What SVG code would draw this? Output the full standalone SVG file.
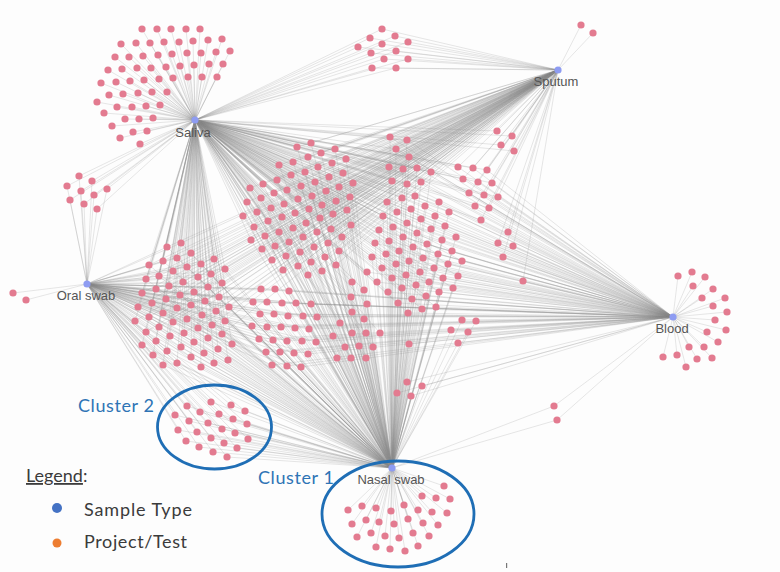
<svg xmlns="http://www.w3.org/2000/svg" width="780" height="572" viewBox="0 0 780 572">
<style>
.e path{fill:none;stroke:#8a8a8a;stroke-opacity:.3;stroke-width:.7}
.p circle{fill:#e37b90;r:3.6px}
.h circle{fill:#8e9cf2}
.hl{font-family:"Liberation Sans",Arial,sans-serif;font-size:13px;fill:#555;text-anchor:middle}
.cl{font-family:Lato,"Open Sans",sans-serif;font-size:18px;fill:#2e74b5}
.lg{font-family:Lato,"Open Sans",sans-serif;font-size:18px;fill:#3b3b3b}
.ov{fill:none;stroke:#1f6eb5;stroke-width:2.8}
</style>
<rect width="780" height="572" fill="#fdfdfd"/>
<g id="connectors" class="e">
<path d="M195 120 142 29M195 120 157 29M195 120 171 29M195 120 186 29M195 120 200 29M195 120 121 44M195 120 136 43M195 120 150 43M195 120 164 42M195 120 179 42M195 120 193 41M195 120 208 40M195 120 222 39M195 120 115 57M195 120 129 57M195 120 143 56M195 120 158 55M195 120 172 54M195 120 187 53M195 120 201 53M195 120 216 52M195 120 230 51M195 120 108 70M195 120 122 69M195 120 137 68M195 120 151 68M195 120 166 67M195 120 180 66M195 120 194 65M195 120 209 64M195 120 223 64M195 120 101 83M195 120 116 82M195 120 130 81M195 120 144 80M195 120 159 79M195 120 173 78M195 120 188 77M195 120 202 77M195 120 217 77M195 120 97 102M195 120 109 95M195 120 123 94M195 120 138 93M195 120 152 92M195 120 167 92M195 120 104 113M195 120 117 107M195 120 132 107M195 120 146 106M195 120 160 105M195 120 112 126M195 120 125 119M195 120 139 119M195 120 153 118M195 120 120 138M195 120 133 132M195 120 147 131M195 120 140 144"/>
<path d="M195 120 79 176M195 120 67 186M195 120 92 181M195 120 81 191M195 120 94 195M195 120 107 189M195 120 70 200M195 120 84 204M195 120 97 209"/>
<path d="M87 284 79 176M87 284 67 186M87 284 92 181M87 284 81 191M87 284 94 195M87 284 107 189M87 284 70 200M87 284 84 204M87 284 97 209M87 284 13 293M87 284 26 300"/>
<path d="M195 120 382 29M195 120 370 38M195 120 395 36M195 120 358 47M195 120 382 44M195 120 408 42M195 120 371 53M195 120 396 51M195 120 384 59M195 120 408 59M195 120 372 68M195 120 396 68"/>
<path d="M558 70 382 29M558 70 370 38M558 70 395 36M558 70 358 47M558 70 382 44M558 70 408 42M558 70 371 53M558 70 396 51M558 70 384 59M558 70 408 59M558 70 372 68M558 70 396 68M558 70 581 25M558 70 593 33"/>
<path d="M673 317 678 276M673 317 692 272M673 317 705 277M673 317 693 286M673 317 713 289M673 317 702 298M673 317 725 298M673 317 713 306M673 317 727 312M673 317 715 320M673 317 726 330M673 317 707 332M673 317 718 342M673 317 704 347M673 317 689 347M673 317 677 355M673 317 663 357M673 317 697 359M673 317 712 358M673 317 686 367"/>
<path d="M392 468 444 486M392 468 422 496M392 468 436 498M392 468 450 499M392 468 348 510M392 468 362 506M392 468 376 508M392 468 391 511M392 468 404 505M392 468 418 510M392 468 432 512M392 468 447 513M392 468 352 524M392 468 366 520M392 468 379 522M392 468 394 524M392 468 408 519M392 468 423 523M392 468 438 525M392 468 357 537M392 468 371 533M392 468 385 536M392 468 399 538M392 468 413 533M392 468 429 536M392 468 376 547M392 468 390 549M392 468 405 551M392 468 418 546"/>
<path d="M392 468 187 406M392 468 211 402M392 468 231 405M392 468 245 411M392 468 175 415M392 468 200 412M392 468 219 414M392 468 233 419M392 468 247 424M392 468 189 421M392 468 208 423M392 468 222 429M392 468 235 433M392 468 248 439M392 468 178 430M392 468 197 432M392 468 211 438M392 468 224 443M392 468 237 448M392 468 186 441M392 468 199 447M392 468 213 452M392 468 227 457"/>
<path d="M87 284 187 406M87 284 211 402M87 284 231 405M87 284 245 411M87 284 175 415M87 284 200 412M87 284 219 414M87 284 233 419M87 284 247 424M87 284 189 421M87 284 208 423M87 284 222 429M87 284 235 433M87 284 248 439M87 284 178 430M87 284 197 432M87 284 211 438M87 284 224 443M87 284 237 448M87 284 186 441M87 284 199 447M87 284 213 452M87 284 227 457"/>
<path d="M392 468 407 382M392 468 422 386M392 468 397 393M392 468 411 396M392 468 554 406M392 468 557 420M392 468 409 344M673 317 407 382M673 317 422 386M673 317 397 393M673 317 411 396M673 317 554 406M673 317 557 420M673 317 409 344"/>
<path d="M195 120 311 143M195 120 297 147M195 120 321 153M195 120 335 149M195 120 308 157M195 120 293 162M195 120 346 159M195 120 279 165M195 120 332 163M195 120 318 167M195 120 305 172M195 120 291 175M195 120 343 173M195 120 277 180M195 120 329 177M195 120 315 182M195 120 353 183M195 120 263 184M195 120 301 186M195 120 339 187M195 120 287 190M195 120 326 191M195 120 250 188M195 120 274 193M195 120 312 196M195 120 350 197M195 120 261 198M195 120 298 199M195 120 336 201M195 120 284 204M195 120 322 205M195 120 247 202M195 120 271 208M195 120 309 209M195 120 347 210M195 120 257 212M195 120 295 213M195 120 333 214M195 120 282 217M195 120 320 218M195 120 243 216M195 120 268 221M195 120 306 223M195 120 351 225M195 120 254 227M195 120 293 228M195 120 331 229M195 120 279 232M195 120 317 232M195 120 265 236M195 120 303 237M195 120 342 237M195 120 251 240M195 120 289 242M195 120 328 243M195 120 275 246M195 120 314 247M195 120 262 249M195 120 300 252M195 120 339 251M195 120 286 256M195 120 325 257M195 120 272 260M195 120 311 262M195 120 298 266M195 120 336 265M195 120 283 270M195 120 322 271M195 120 308 275"/>
<path d="M392 468 311 143M392 468 297 147M392 468 321 153M392 468 335 149M392 468 308 157M392 468 293 162M392 468 346 159M392 468 279 165M392 468 332 163M392 468 318 167M392 468 305 172M392 468 291 175M392 468 343 173M392 468 277 180M392 468 329 177M392 468 315 182M392 468 353 183M392 468 263 184M392 468 301 186M392 468 339 187M392 468 287 190M392 468 326 191M392 468 250 188M392 468 274 193M392 468 312 196M392 468 350 197M392 468 261 198M392 468 298 199M392 468 336 201M392 468 284 204M392 468 322 205M392 468 247 202M392 468 271 208M392 468 309 209M392 468 347 210M392 468 257 212M392 468 295 213M392 468 333 214M392 468 282 217M392 468 320 218M392 468 243 216M392 468 268 221M392 468 306 223M392 468 351 225M392 468 254 227M392 468 293 228M392 468 331 229M392 468 279 232M392 468 317 232M392 468 265 236M392 468 303 237M392 468 342 237M392 468 251 240M392 468 289 242M392 468 328 243M392 468 275 246M392 468 314 247M392 468 262 249M392 468 300 252M392 468 339 251M392 468 286 256M392 468 325 257M392 468 272 260M392 468 311 262M392 468 298 266M392 468 336 265M392 468 283 270M392 468 322 271M392 468 308 275"/>
<path d="M558 70 311 143M558 70 297 147M558 70 321 153M558 70 335 149M558 70 308 157M558 70 293 162M558 70 346 159M558 70 279 165M558 70 332 163M558 70 318 167M558 70 305 172M558 70 291 175M558 70 343 173M558 70 277 180M558 70 329 177M558 70 315 182M558 70 353 183M558 70 263 184M558 70 301 186M558 70 339 187M558 70 287 190M558 70 326 191M558 70 250 188M558 70 274 193M558 70 312 196M558 70 350 197M558 70 261 198M558 70 298 199M558 70 336 201M558 70 284 204M558 70 322 205M558 70 247 202M558 70 271 208M558 70 309 209M558 70 347 210M558 70 257 212M558 70 295 213M558 70 333 214M558 70 282 217M558 70 320 218M558 70 243 216M558 70 268 221M558 70 306 223M558 70 351 225M558 70 254 227M558 70 293 228M558 70 331 229M558 70 279 232M558 70 317 232M558 70 265 236M558 70 303 237M558 70 342 237M558 70 251 240M558 70 289 242M558 70 328 243M558 70 275 246M558 70 314 247M558 70 262 249M558 70 300 252M558 70 339 251M558 70 286 256M558 70 325 257M558 70 272 260M558 70 311 262M558 70 298 266M558 70 336 265M558 70 283 270M558 70 322 271M558 70 308 275"/>
<path d="M195 120 390 137M195 120 407 140M195 120 396 149M195 120 409 157M195 120 389 167M195 120 403 169M195 120 417 168M195 120 431 172M195 120 392 181M195 120 407 184M195 120 421 182M195 120 402 198M195 120 415 196M195 120 387 202M195 120 439 202M195 120 425 206M195 120 411 209M195 120 397 212M195 120 383 216M195 120 449 212M195 120 435 216M195 120 421 219M195 120 407 223M195 120 393 227M195 120 379 230M195 120 445 226M195 120 431 229M195 120 417 233M195 120 403 237M195 120 389 241M195 120 375 243M195 120 456 237M195 120 442 240M195 120 427 244M195 120 413 247M195 120 399 251M195 120 386 254M195 120 372 257M195 120 452 251M195 120 438 254M195 120 423 258M195 120 409 261M195 120 396 264M195 120 382 268M195 120 367 272M195 120 462 261M195 120 448 264M195 120 434 268M195 120 420 272M195 120 406 275M195 120 392 278M195 120 377 282M195 120 458 276M195 120 443 278M195 120 429 282M195 120 416 285M195 120 402 288M195 120 388 292M195 120 453 288M195 120 439 292M195 120 426 296M195 120 412 299M195 120 398 303M195 120 436 307M195 120 422 309M195 120 408 313"/>
<path d="M392 468 390 137M392 468 407 140M392 468 396 149M392 468 409 157M392 468 389 167M392 468 403 169M392 468 417 168M392 468 431 172M392 468 392 181M392 468 407 184M392 468 421 182M392 468 402 198M392 468 415 196M392 468 387 202M392 468 439 202M392 468 425 206M392 468 411 209M392 468 397 212M392 468 383 216M392 468 449 212M392 468 435 216M392 468 421 219M392 468 407 223M392 468 393 227M392 468 379 230M392 468 445 226M392 468 431 229M392 468 417 233M392 468 403 237M392 468 389 241M392 468 375 243M392 468 456 237M392 468 442 240M392 468 427 244M392 468 413 247M392 468 399 251M392 468 386 254M392 468 372 257M392 468 452 251M392 468 438 254M392 468 423 258M392 468 409 261M392 468 396 264M392 468 382 268M392 468 367 272M392 468 462 261M392 468 448 264M392 468 434 268M392 468 420 272M392 468 406 275M392 468 392 278M392 468 377 282M392 468 458 276M392 468 443 278M392 468 429 282M392 468 416 285M392 468 402 288M392 468 388 292M392 468 453 288M392 468 439 292M392 468 426 296M392 468 412 299M392 468 398 303M392 468 436 307M392 468 422 309M392 468 408 313"/>
<path d="M673 317 390 137M673 317 407 140M673 317 396 149M673 317 409 157M673 317 389 167M673 317 403 169M673 317 417 168M673 317 431 172M673 317 392 181M673 317 407 184M673 317 421 182M673 317 402 198M673 317 415 196M673 317 387 202M673 317 439 202M673 317 425 206M673 317 411 209M673 317 397 212M673 317 383 216M673 317 449 212M673 317 435 216M673 317 421 219M673 317 407 223M673 317 393 227M673 317 379 230M673 317 445 226M673 317 431 229M673 317 417 233M673 317 403 237M673 317 389 241M673 317 375 243M673 317 456 237M673 317 442 240M673 317 427 244M673 317 413 247M673 317 399 251M673 317 386 254M673 317 372 257M673 317 452 251M673 317 438 254M673 317 423 258M673 317 409 261M673 317 396 264M673 317 382 268M673 317 367 272M673 317 462 261M673 317 448 264M673 317 434 268M673 317 420 272M673 317 406 275M673 317 392 278M673 317 377 282M673 317 458 276M673 317 443 278M673 317 429 282M673 317 416 285M673 317 402 288M673 317 388 292M673 317 453 288M673 317 439 292M673 317 426 296M673 317 412 299M673 317 398 303M673 317 436 307M673 317 422 309M673 317 408 313"/>
<path d="M87 284 181 243M87 284 167 247M87 284 191 253M87 284 177 258M87 284 163 261M87 284 214 259M87 284 201 264M87 284 149 265M87 284 187 267M87 284 173 271M87 284 225 269M87 284 211 274M87 284 159 276M87 284 198 277M87 284 146 279M87 284 183 282M87 284 222 283M87 284 169 286M87 284 208 287M87 284 156 289M87 284 194 292M87 284 142 293M87 284 180 295M87 284 219 297M87 284 166 299M87 284 205 301M87 284 152 303M87 284 191 305M87 284 138 307M87 284 229 307M87 284 177 308M87 284 216 311M87 284 163 313M87 284 202 315M87 284 149 317M87 284 187 319M87 284 225 321M87 284 173 322M87 284 135 321M87 284 212 325M87 284 159 327M87 284 198 328M87 284 146 332M87 284 184 333M87 284 222 334M87 284 170 336M87 284 208 338M87 284 156 341M87 284 194 342M87 284 142 345M87 284 232 344M87 284 181 347M87 284 218 349M87 284 167 351M87 284 204 353M87 284 153 355M87 284 191 357M87 284 228 360M87 284 177 363M87 284 214 363M87 284 163 365M87 284 201 367"/>
<path d="M195 120 181 243M195 120 167 247M195 120 191 253M195 120 177 258M195 120 163 261M195 120 214 259M195 120 201 264M195 120 149 265M195 120 187 267M195 120 173 271M195 120 225 269M195 120 211 274M195 120 159 276M195 120 198 277M195 120 146 279M195 120 183 282M195 120 222 283M195 120 169 286M195 120 208 287M195 120 156 289M195 120 194 292M195 120 142 293M195 120 180 295M195 120 219 297M195 120 166 299M195 120 205 301M195 120 152 303M195 120 191 305M195 120 138 307M195 120 229 307M195 120 177 308M195 120 216 311M195 120 163 313M195 120 202 315M195 120 149 317M195 120 187 319M195 120 225 321M195 120 173 322M195 120 135 321M195 120 212 325M195 120 159 327M195 120 198 328M195 120 146 332M195 120 184 333M195 120 222 334M195 120 170 336M195 120 208 338M195 120 156 341M195 120 194 342M195 120 142 345M195 120 232 344M195 120 181 347M195 120 218 349M195 120 167 351M195 120 204 353M195 120 153 355M195 120 191 357M195 120 228 360M195 120 177 363M195 120 214 363M195 120 163 365M195 120 201 367"/>
<path d="M392 468 181 243M392 468 167 247M392 468 191 253M392 468 177 258M392 468 163 261M392 468 214 259M392 468 201 264M392 468 149 265M392 468 187 267M392 468 173 271M392 468 225 269M392 468 211 274M392 468 159 276M392 468 198 277M392 468 146 279M392 468 183 282M392 468 222 283M392 468 169 286M392 468 208 287M392 468 156 289M392 468 194 292M392 468 142 293M392 468 180 295M392 468 219 297M392 468 166 299M392 468 205 301M392 468 152 303M392 468 191 305M392 468 138 307M392 468 229 307M392 468 177 308M392 468 216 311M392 468 163 313M392 468 202 315M392 468 149 317M392 468 187 319M392 468 225 321M392 468 173 322M392 468 135 321M392 468 212 325M392 468 159 327M392 468 198 328M392 468 146 332M392 468 184 333M392 468 222 334M392 468 170 336M392 468 208 338M392 468 156 341M392 468 194 342M392 468 142 345M392 468 232 344M392 468 181 347M392 468 218 349M392 468 167 351M392 468 204 353M392 468 153 355M392 468 191 357M392 468 228 360M392 468 177 363M392 468 214 363M392 468 163 365M392 468 201 367"/>
<path d="M558 70 181 243M558 70 167 247M558 70 191 253M558 70 177 258M558 70 163 261M558 70 214 259M558 70 201 264M558 70 149 265M558 70 187 267M558 70 173 271M558 70 225 269M558 70 211 274M558 70 159 276M558 70 198 277M558 70 146 279M558 70 183 282M558 70 222 283M558 70 169 286M558 70 208 287M558 70 156 289M558 70 194 292M558 70 142 293M558 70 180 295M558 70 219 297M558 70 166 299M558 70 205 301M558 70 152 303M558 70 191 305M558 70 138 307M558 70 229 307M558 70 177 308M558 70 216 311M558 70 163 313M558 70 202 315M558 70 149 317M558 70 187 319M558 70 225 321M558 70 173 322M558 70 135 321M558 70 212 325M558 70 159 327M558 70 198 328M558 70 146 332M558 70 184 333M558 70 222 334"/>
<path d="M87 284 261 289M87 284 275 289M87 284 289 291M87 284 253 302M87 284 267 302M87 284 282 303M87 284 296 303M87 284 311 304M87 284 260 314M87 284 274 314M87 284 288 316M87 284 303 316M87 284 317 317M87 284 252 326M87 284 267 327M87 284 281 327M87 284 295 328M87 284 309 329M87 284 259 339M87 284 273 340M87 284 287 341M87 284 302 341M87 284 316 342M87 284 266 352M87 284 280 352M87 284 294 353M87 284 308 354M87 284 272 365M87 284 287 366M87 284 301 367"/>
<path d="M392 468 261 289M392 468 275 289M392 468 289 291M392 468 253 302M392 468 267 302M392 468 282 303M392 468 296 303M392 468 311 304M392 468 260 314M392 468 274 314M392 468 288 316M392 468 303 316M392 468 317 317M392 468 252 326M392 468 267 327M392 468 281 327M392 468 295 328M392 468 309 329M392 468 259 339M392 468 273 340M392 468 287 341M392 468 302 341M392 468 316 342M392 468 266 352M392 468 280 352M392 468 294 353M392 468 308 354M392 468 272 365M392 468 287 366M392 468 301 367"/>
<path d="M673 317 261 289M673 317 275 289M673 317 289 291M673 317 253 302M673 317 267 302M673 317 282 303M673 317 296 303M673 317 311 304M673 317 260 314M673 317 274 314M673 317 288 316M673 317 303 316M673 317 317 317M673 317 252 326M673 317 267 327M673 317 281 327M673 317 295 328M673 317 309 329M673 317 259 339M673 317 273 340M673 317 287 341M673 317 302 341M673 317 316 342M673 317 266 352M673 317 280 352M673 317 294 353M673 317 308 354M673 317 272 365M673 317 287 366M673 317 301 367"/>
<path d="M392 468 352 282M392 468 364 290M392 468 351 297M392 468 367 304M392 468 352 312M392 468 364 319M392 468 340 323M392 468 352 333M392 468 366 333M392 468 380 333M392 468 333 336M392 468 345 347M392 468 359 346M392 468 373 347M392 468 337 358M392 468 351 358M392 468 366 358"/>
<path d="M195 120 352 282M195 120 364 290M195 120 351 297M195 120 367 304M195 120 352 312M195 120 364 319M195 120 340 323M195 120 352 333M195 120 366 333M195 120 380 333M195 120 333 336M195 120 345 347M195 120 359 346M195 120 373 347M195 120 337 358M195 120 351 358M195 120 366 358"/>
<path d="M558 70 458 167M558 70 473 168M558 70 487 170M558 70 463 179M558 70 478 182M558 70 492 183M558 70 469 193M558 70 484 195M558 70 498 197M558 70 475 206M558 70 489 208M558 70 481 220M558 70 497 131M558 70 512 136M558 70 501 145M558 70 514 151M558 70 508 232M558 70 498 243M558 70 513 246M558 70 503 257M558 70 523 281"/>
<path d="M195 120 458 167M195 120 473 168M195 120 487 170M195 120 463 179M195 120 478 182M195 120 492 183M195 120 469 193M195 120 484 195M195 120 498 197M195 120 475 206M195 120 489 208M195 120 481 220M195 120 497 131M195 120 512 136M195 120 501 145M195 120 514 151"/>
<path d="M673 317 458 167M673 317 473 168M673 317 487 170M673 317 463 179M673 317 478 182M673 317 492 183M673 317 469 193M673 317 484 195M673 317 498 197M673 317 475 206M673 317 489 208M673 317 481 220M673 317 508 232M673 317 498 243M673 317 513 246M673 317 503 257M673 317 523 281M673 317 462 320M673 317 476 321M673 317 451 330M673 317 468 332M673 317 458 343"/>
<path d="M392 468 462 320M392 468 476 321M392 468 451 330M392 468 468 332M392 468 458 343"/>
</g>
<g id="projects" class="p">
<g id="saliva-projects"><circle cx="142" cy="29"/><circle cx="157" cy="29"/><circle cx="171" cy="29"/><circle cx="186" cy="29"/><circle cx="200" cy="29"/><circle cx="121" cy="44"/><circle cx="136" cy="43"/><circle cx="150" cy="43"/><circle cx="164" cy="42"/><circle cx="179" cy="42"/><circle cx="193" cy="41"/><circle cx="208" cy="40"/><circle cx="222" cy="39"/><circle cx="115" cy="57"/><circle cx="129" cy="57"/><circle cx="143" cy="56"/><circle cx="158" cy="55"/><circle cx="172" cy="54"/><circle cx="187" cy="53"/><circle cx="201" cy="53"/><circle cx="216" cy="52"/><circle cx="230" cy="51"/><circle cx="108" cy="70"/><circle cx="122" cy="69"/><circle cx="137" cy="68"/><circle cx="151" cy="68"/><circle cx="166" cy="67"/><circle cx="180" cy="66"/><circle cx="194" cy="65"/><circle cx="209" cy="64"/><circle cx="223" cy="64"/><circle cx="101" cy="83"/><circle cx="116" cy="82"/><circle cx="130" cy="81"/><circle cx="144" cy="80"/><circle cx="159" cy="79"/><circle cx="173" cy="78"/><circle cx="188" cy="77"/><circle cx="202" cy="77"/><circle cx="217" cy="77"/><circle cx="97" cy="102"/><circle cx="109" cy="95"/><circle cx="123" cy="94"/><circle cx="138" cy="93"/><circle cx="152" cy="92"/><circle cx="167" cy="92"/><circle cx="104" cy="113"/><circle cx="117" cy="107"/><circle cx="132" cy="107"/><circle cx="146" cy="106"/><circle cx="160" cy="105"/><circle cx="112" cy="126"/><circle cx="125" cy="119"/><circle cx="139" cy="119"/><circle cx="153" cy="118"/><circle cx="120" cy="138"/><circle cx="133" cy="132"/><circle cx="147" cy="131"/><circle cx="140" cy="144"/></g>
<g id="saliva-oral-projects"><circle cx="79" cy="176"/><circle cx="67" cy="186"/><circle cx="92" cy="181"/><circle cx="81" cy="191"/><circle cx="94" cy="195"/><circle cx="107" cy="189"/><circle cx="70" cy="200"/><circle cx="84" cy="204"/><circle cx="97" cy="209"/></g>
<g id="oral-projects"><circle cx="13" cy="293"/><circle cx="26" cy="300"/></g>
<g id="sputum-projects"><circle cx="382" cy="29"/><circle cx="370" cy="38"/><circle cx="395" cy="36"/><circle cx="358" cy="47"/><circle cx="382" cy="44"/><circle cx="408" cy="42"/><circle cx="371" cy="53"/><circle cx="396" cy="51"/><circle cx="384" cy="59"/><circle cx="408" cy="59"/><circle cx="372" cy="68"/><circle cx="396" cy="68"/><circle cx="581" cy="25"/><circle cx="593" cy="33"/></g>
<g id="blood-projects"><circle cx="678" cy="276"/><circle cx="692" cy="272"/><circle cx="705" cy="277"/><circle cx="693" cy="286"/><circle cx="713" cy="289"/><circle cx="702" cy="298"/><circle cx="725" cy="298"/><circle cx="713" cy="306"/><circle cx="727" cy="312"/><circle cx="715" cy="320"/><circle cx="726" cy="330"/><circle cx="707" cy="332"/><circle cx="718" cy="342"/><circle cx="704" cy="347"/><circle cx="689" cy="347"/><circle cx="677" cy="355"/><circle cx="663" cy="357"/><circle cx="697" cy="359"/><circle cx="712" cy="358"/><circle cx="686" cy="367"/></g>
<g id="nasal-projects"><circle cx="444" cy="486"/><circle cx="422" cy="496"/><circle cx="436" cy="498"/><circle cx="450" cy="499"/><circle cx="348" cy="510"/><circle cx="362" cy="506"/><circle cx="376" cy="508"/><circle cx="391" cy="511"/><circle cx="404" cy="505"/><circle cx="418" cy="510"/><circle cx="432" cy="512"/><circle cx="447" cy="513"/><circle cx="352" cy="524"/><circle cx="366" cy="520"/><circle cx="379" cy="522"/><circle cx="394" cy="524"/><circle cx="408" cy="519"/><circle cx="423" cy="523"/><circle cx="438" cy="525"/><circle cx="357" cy="537"/><circle cx="371" cy="533"/><circle cx="385" cy="536"/><circle cx="399" cy="538"/><circle cx="413" cy="533"/><circle cx="429" cy="536"/><circle cx="376" cy="547"/><circle cx="390" cy="549"/><circle cx="405" cy="551"/><circle cx="418" cy="546"/></g>
<g id="cluster2-projects"><circle cx="187" cy="406"/><circle cx="211" cy="402"/><circle cx="231" cy="405"/><circle cx="245" cy="411"/><circle cx="175" cy="415"/><circle cx="200" cy="412"/><circle cx="219" cy="414"/><circle cx="233" cy="419"/><circle cx="247" cy="424"/><circle cx="189" cy="421"/><circle cx="208" cy="423"/><circle cx="222" cy="429"/><circle cx="235" cy="433"/><circle cx="248" cy="439"/><circle cx="178" cy="430"/><circle cx="197" cy="432"/><circle cx="211" cy="438"/><circle cx="224" cy="443"/><circle cx="237" cy="448"/><circle cx="186" cy="441"/><circle cx="199" cy="447"/><circle cx="213" cy="452"/><circle cx="227" cy="457"/></g>
<g id="misc-projects"><circle cx="407" cy="382"/><circle cx="422" cy="386"/><circle cx="397" cy="393"/><circle cx="411" cy="396"/><circle cx="554" cy="406"/><circle cx="557" cy="420"/><circle cx="409" cy="344"/><circle cx="462" cy="320"/><circle cx="476" cy="321"/><circle cx="451" cy="330"/><circle cx="468" cy="332"/><circle cx="458" cy="343"/><circle cx="458" cy="167"/><circle cx="473" cy="168"/><circle cx="487" cy="170"/><circle cx="463" cy="179"/><circle cx="478" cy="182"/><circle cx="492" cy="183"/><circle cx="469" cy="193"/><circle cx="484" cy="195"/><circle cx="498" cy="197"/><circle cx="475" cy="206"/><circle cx="489" cy="208"/><circle cx="481" cy="220"/><circle cx="497" cy="131"/><circle cx="512" cy="136"/><circle cx="501" cy="145"/><circle cx="514" cy="151"/><circle cx="508" cy="232"/><circle cx="498" cy="243"/><circle cx="513" cy="246"/><circle cx="503" cy="257"/><circle cx="523" cy="281"/></g>
<g id="center-a"><circle cx="311" cy="143"/><circle cx="297" cy="147"/><circle cx="321" cy="153"/><circle cx="335" cy="149"/><circle cx="308" cy="157"/><circle cx="293" cy="162"/><circle cx="346" cy="159"/><circle cx="279" cy="165"/><circle cx="332" cy="163"/><circle cx="318" cy="167"/><circle cx="305" cy="172"/><circle cx="291" cy="175"/><circle cx="343" cy="173"/><circle cx="277" cy="180"/><circle cx="329" cy="177"/><circle cx="315" cy="182"/><circle cx="353" cy="183"/><circle cx="263" cy="184"/><circle cx="301" cy="186"/><circle cx="339" cy="187"/><circle cx="287" cy="190"/><circle cx="326" cy="191"/><circle cx="250" cy="188"/><circle cx="274" cy="193"/><circle cx="312" cy="196"/><circle cx="350" cy="197"/><circle cx="261" cy="198"/><circle cx="298" cy="199"/><circle cx="336" cy="201"/><circle cx="284" cy="204"/><circle cx="322" cy="205"/><circle cx="247" cy="202"/><circle cx="271" cy="208"/><circle cx="309" cy="209"/><circle cx="347" cy="210"/><circle cx="257" cy="212"/><circle cx="295" cy="213"/><circle cx="333" cy="214"/><circle cx="282" cy="217"/><circle cx="320" cy="218"/><circle cx="243" cy="216"/><circle cx="268" cy="221"/><circle cx="306" cy="223"/><circle cx="351" cy="225"/><circle cx="254" cy="227"/><circle cx="293" cy="228"/><circle cx="331" cy="229"/><circle cx="279" cy="232"/><circle cx="317" cy="232"/><circle cx="265" cy="236"/><circle cx="303" cy="237"/><circle cx="342" cy="237"/><circle cx="251" cy="240"/><circle cx="289" cy="242"/><circle cx="328" cy="243"/><circle cx="275" cy="246"/><circle cx="314" cy="247"/><circle cx="262" cy="249"/><circle cx="300" cy="252"/><circle cx="339" cy="251"/><circle cx="286" cy="256"/><circle cx="325" cy="257"/><circle cx="272" cy="260"/><circle cx="311" cy="262"/><circle cx="298" cy="266"/><circle cx="336" cy="265"/><circle cx="283" cy="270"/><circle cx="322" cy="271"/><circle cx="308" cy="275"/></g>
<g id="center-b"><circle cx="390" cy="137"/><circle cx="407" cy="140"/><circle cx="396" cy="149"/><circle cx="409" cy="157"/><circle cx="389" cy="167"/><circle cx="403" cy="169"/><circle cx="417" cy="168"/><circle cx="431" cy="172"/><circle cx="392" cy="181"/><circle cx="407" cy="184"/><circle cx="421" cy="182"/><circle cx="402" cy="198"/><circle cx="415" cy="196"/><circle cx="387" cy="202"/><circle cx="439" cy="202"/><circle cx="425" cy="206"/><circle cx="411" cy="209"/><circle cx="397" cy="212"/><circle cx="383" cy="216"/><circle cx="449" cy="212"/><circle cx="435" cy="216"/><circle cx="421" cy="219"/><circle cx="407" cy="223"/><circle cx="393" cy="227"/><circle cx="379" cy="230"/><circle cx="445" cy="226"/><circle cx="431" cy="229"/><circle cx="417" cy="233"/><circle cx="403" cy="237"/><circle cx="389" cy="241"/><circle cx="375" cy="243"/><circle cx="456" cy="237"/><circle cx="442" cy="240"/><circle cx="427" cy="244"/><circle cx="413" cy="247"/><circle cx="399" cy="251"/><circle cx="386" cy="254"/><circle cx="372" cy="257"/><circle cx="452" cy="251"/><circle cx="438" cy="254"/><circle cx="423" cy="258"/><circle cx="409" cy="261"/><circle cx="396" cy="264"/><circle cx="382" cy="268"/><circle cx="367" cy="272"/><circle cx="462" cy="261"/><circle cx="448" cy="264"/><circle cx="434" cy="268"/><circle cx="420" cy="272"/><circle cx="406" cy="275"/><circle cx="392" cy="278"/><circle cx="377" cy="282"/><circle cx="458" cy="276"/><circle cx="443" cy="278"/><circle cx="429" cy="282"/><circle cx="416" cy="285"/><circle cx="402" cy="288"/><circle cx="388" cy="292"/><circle cx="453" cy="288"/><circle cx="439" cy="292"/><circle cx="426" cy="296"/><circle cx="412" cy="299"/><circle cx="398" cy="303"/><circle cx="436" cy="307"/><circle cx="422" cy="309"/><circle cx="408" cy="313"/></g>
<g id="center-h"><circle cx="181" cy="243"/><circle cx="167" cy="247"/><circle cx="191" cy="253"/><circle cx="177" cy="258"/><circle cx="163" cy="261"/><circle cx="214" cy="259"/><circle cx="201" cy="264"/><circle cx="149" cy="265"/><circle cx="187" cy="267"/><circle cx="173" cy="271"/><circle cx="225" cy="269"/><circle cx="211" cy="274"/><circle cx="159" cy="276"/><circle cx="198" cy="277"/><circle cx="146" cy="279"/><circle cx="183" cy="282"/><circle cx="222" cy="283"/><circle cx="169" cy="286"/><circle cx="208" cy="287"/><circle cx="156" cy="289"/><circle cx="194" cy="292"/><circle cx="142" cy="293"/><circle cx="180" cy="295"/><circle cx="219" cy="297"/><circle cx="166" cy="299"/><circle cx="205" cy="301"/><circle cx="152" cy="303"/><circle cx="191" cy="305"/><circle cx="138" cy="307"/><circle cx="229" cy="307"/><circle cx="177" cy="308"/><circle cx="216" cy="311"/><circle cx="163" cy="313"/><circle cx="202" cy="315"/><circle cx="149" cy="317"/><circle cx="187" cy="319"/><circle cx="225" cy="321"/><circle cx="173" cy="322"/><circle cx="135" cy="321"/><circle cx="212" cy="325"/><circle cx="159" cy="327"/><circle cx="198" cy="328"/><circle cx="146" cy="332"/><circle cx="184" cy="333"/><circle cx="222" cy="334"/><circle cx="170" cy="336"/><circle cx="208" cy="338"/><circle cx="156" cy="341"/><circle cx="194" cy="342"/><circle cx="142" cy="345"/><circle cx="232" cy="344"/><circle cx="181" cy="347"/><circle cx="218" cy="349"/><circle cx="167" cy="351"/><circle cx="204" cy="353"/><circle cx="153" cy="355"/><circle cx="191" cy="357"/><circle cx="228" cy="360"/><circle cx="177" cy="363"/><circle cx="214" cy="363"/><circle cx="163" cy="365"/><circle cx="201" cy="367"/></g>
<g id="center-g"><circle cx="261" cy="289"/><circle cx="275" cy="289"/><circle cx="289" cy="291"/><circle cx="253" cy="302"/><circle cx="267" cy="302"/><circle cx="282" cy="303"/><circle cx="296" cy="303"/><circle cx="311" cy="304"/><circle cx="260" cy="314"/><circle cx="274" cy="314"/><circle cx="288" cy="316"/><circle cx="303" cy="316"/><circle cx="317" cy="317"/><circle cx="252" cy="326"/><circle cx="267" cy="327"/><circle cx="281" cy="327"/><circle cx="295" cy="328"/><circle cx="309" cy="329"/><circle cx="259" cy="339"/><circle cx="273" cy="340"/><circle cx="287" cy="341"/><circle cx="302" cy="341"/><circle cx="316" cy="342"/><circle cx="266" cy="352"/><circle cx="280" cy="352"/><circle cx="294" cy="353"/><circle cx="308" cy="354"/><circle cx="272" cy="365"/><circle cx="287" cy="366"/><circle cx="301" cy="367"/></g>
<g id="center-i"><circle cx="352" cy="282"/><circle cx="364" cy="290"/><circle cx="351" cy="297"/><circle cx="367" cy="304"/><circle cx="352" cy="312"/><circle cx="364" cy="319"/><circle cx="340" cy="323"/><circle cx="352" cy="333"/><circle cx="366" cy="333"/><circle cx="380" cy="333"/><circle cx="333" cy="336"/><circle cx="345" cy="347"/><circle cx="359" cy="346"/><circle cx="373" cy="347"/><circle cx="337" cy="358"/><circle cx="351" cy="358"/><circle cx="366" cy="358"/></g>
</g>
<g id="hub-saliva" class="h"><circle cx="195" cy="120" r="3.6"/><text class="hl" x="193" y="137">Saliva</text></g>
<g id="hub-sputum" class="h"><circle cx="558" cy="70" r="3.6"/><text class="hl" x="556" y="86">Sputum</text></g>
<g id="hub-oral-swab" class="h"><circle cx="87" cy="284" r="3.6"/><text class="hl" x="86" y="300">Oral swab</text></g>
<g id="hub-blood" class="h"><circle cx="673" cy="317" r="3.6"/><text class="hl" x="672" y="333">Blood</text></g>
<g id="hub-nasal-swab" class="h"><circle cx="392" cy="468" r="3.6"/><text class="hl" x="391" y="484">Nasal swab</text></g>
<g id="cluster-2"><ellipse class="ov" cx="214.5" cy="427" rx="57" ry="42"/><text class="cl" x="78" y="412" textLength="76">Cluster 2</text></g>
<g id="cluster-1"><ellipse class="ov" cx="398" cy="514" rx="76" ry="53"/><text class="cl" x="258" y="484" textLength="76">Cluster 1</text></g>
<g id="legend">
<text class="lg" x="26" y="482"><tspan text-decoration="underline">Legend</tspan>:</text>
<circle cx="57" cy="508" r="5" fill="#4472c4"/>
<text class="lg" x="84" y="516" textLength="108">Sample Type</text>
<circle cx="57" cy="543" r="4.5" fill="#ed7d31"/>
<text class="lg" x="84" y="548" textLength="103">Project/Test</text>
</g>
<rect x="506" y="563" width="1.2" height="5" fill="#777"/>
</svg>
